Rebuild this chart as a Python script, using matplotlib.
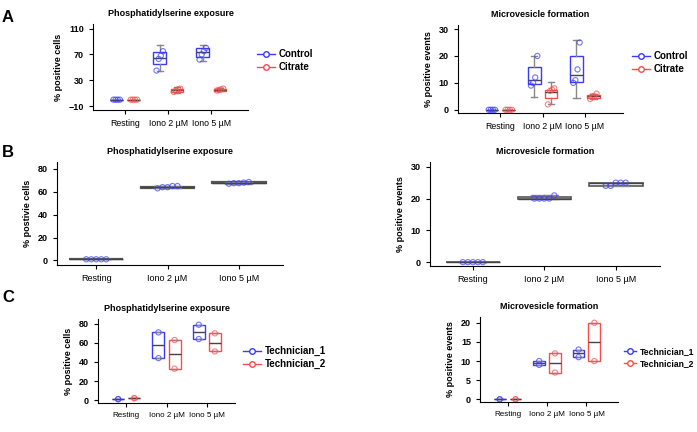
import matplotlib.pyplot as plt
from matplotlib.lines import Line2D

plt.rcParams['font.family'] = ['Liberation Sans', 'DejaVu Sans']

W, H = 697, 432
cats = ['Resting', 'Iono 2 \u00b5M', 'Iono 5 \u00b5M']
BLUE = '#3a3aff'
RED = '#ff4a4a'

# --- A: Phosphatidylserine exposure (Control / Citrate)
a_ps_ctrl = dict(lo=[0, 45, 60], q1=[0, 55, 66], med=[0, 65, 73], q3=[0, 73, 80], hi=[0, 85, 85])
a_ps_ctrl_pts = [[0, 0, 0, 0], [45, 63, 68, 75], [62, 70, 75, 80]]
a_ps_cit = dict(lo=[0, 10, 13], q1=[0, 12, 14], med=[0, 15, 15], q3=[0, 17, 16], hi=[0, 20, 18])
a_ps_cit_pts = [[0, 0, 0, 0], [12, 14, 16, 17], [14, 15, 16, 17]]
# --- A: Microvesicle formation
a_mv_ctrl = dict(lo=[0, 4.8, 4.3], q1=[0, 9.5, 10.5], med=[0, 11, 13], q3=[0, 16, 20], hi=[0, 20, 26])
a_mv_ctrl_pts = [[0, 0, 0, 0], [9, 10, 12, 20], [10, 11, 15, 25]]
a_mv_cit = dict(lo=[0, 2, 4], q1=[0, 4.5, 4.5], med=[0, 6.5, 5], q3=[0, 7.5, 5.5], hi=[0, 10.3, 6])
a_mv_cit_pts = [[0, 0, 0, 0], [2, 7, 7.5, 8], [4, 5, 5, 6]]

# --- B: repeatability
b_ps = dict(lo=[1, 63, 67], q1=[1, 63.5, 67.3], med=[1, 64, 67.8], q3=[1, 64.5, 68.3], hi=[1, 65, 68.5])
b_ps_pts = [[1, 1, 1, 1, 1], [63, 64, 64, 65, 65], [67, 67.5, 67.5, 68, 68.5]]
b_mv = dict(lo=[0, 20, 24], q1=[0, 19.8, 24], med=[0, 20, 25], q3=[0, 20.4, 25], hi=[0, 21, 25])
b_mv_pts = [[0, 0, 0, 0, 0], [20, 20, 20, 20, 21], [24, 24, 25, 25, 25]]

# --- C: Technician_1 / Technician_2
c_ps_t1 = dict(lo=[1, 44, 64], q1=[1, 44, 64], med=[1, 58, 71], q3=[1, 71, 79], hi=[1, 71, 79])
c_ps_t1_pts = [[1, 1], [44, 71], [64, 79]]
c_ps_t2 = dict(lo=[2, 33, 51], q1=[2, 33, 51], med=[2, 48, 60], q3=[2, 63, 70], hi=[2, 63, 70])
c_ps_t2_pts = [[2, 2], [33, 63], [51, 70]]
c_mv_t1 = dict(lo=[0, 9, 11], q1=[0, 9, 11], med=[0, 9.5, 12], q3=[0, 10, 13], hi=[0, 10, 13])
c_mv_t1_pts = [[0, 0], [9, 10], [11, 13]]
c_mv_t2 = dict(lo=[0, 7, 10], q1=[0, 7, 10], med=[0, 9.5, 15], q3=[0, 12, 20], hi=[0, 12, 20])
c_mv_t2_pts = [[0, 0], [7, 12], [10, 20]]


def px_axes(fig, x0, y0, x1, y1):
    return fig.add_axes([x0 / W, 1 - y1 / H, (x1 - x0) / W, (y1 - y0) / H])


def draw_group(ax, st, pts, pos, color, width, edge, lw=1.0, step=0.05):
    stats = [dict(whislo=st['lo'][i], q1=st['q1'][i], med=st['med'][i], q3=st['q3'][i],
                  whishi=st['hi'][i], fliers=[]) for i in range(3)]
    ax.bxp(stats, positions=pos, widths=width, showcaps=True, patch_artist=True,
           boxprops=dict(facecolor='white', edgecolor=edge, linewidth=lw),
           whiskerprops=dict(color='#888888', linewidth=1),
           capprops=dict(color='#888888', linewidth=1),
           medianprops=dict(color='#444444', linewidth=1), zorder=2)
    for p, vals in zip(pos, pts):
        n = len(vals)
        offs = [(k - (n - 1) / 2) * step for k in range(n)]
        ax.scatter([p + o for o in offs], vals, s=14, facecolors='none',
                   edgecolors=color, linewidths=0.8, alpha=0.7, zorder=3)


def style(ax, title, ylabel, ylim, yticks, xlim, xpos, xfs=6.3):
    for s in ['top', 'right']:
        ax.spines[s].set_visible(False)
    ax.set_ylim(*ylim)
    ax.set_yticks(yticks)
    ax.set_xlim(*xlim)
    ax.set_xticks(xpos)
    ax.set_xticklabels(cats, fontsize=xfs)
    ax.tick_params(axis='y', labelsize=6.5, length=3)
    for t in ax.get_yticklabels():
        t.set_fontweight('bold')
    ax.tick_params(axis='x', length=3)
    ax.set_title(title, fontsize=6.5, fontweight='bold', pad=6)
    ax.set_ylabel(ylabel, fontsize=6.5, fontweight='bold')


def legend(fig, names, xpx, ypx, size=7, hl=1.8):
    handles = [Line2D([0], [0], color=c, marker='o', mfc='white', ms=4, lw=1)
               for c in (BLUE, RED)]
    fig.legend(handles, names, loc='upper left', bbox_to_anchor=(xpx / W, 1 - ypx / H),
               frameon=False, handlelength=hl, handletextpad=0.4, labelspacing=0.3,
               borderaxespad=0, borderpad=0, prop=dict(weight='bold', size=size))


fig = plt.figure(figsize=(W / 100, H / 100), dpi=100)

# A left
ax = px_axes(fig, 93, 24, 248, 110)
draw_group(ax, a_ps_ctrl, a_ps_ctrl_pts, [0.8, 1.8, 2.8], BLUE, 0.3, BLUE)
draw_group(ax, a_ps_cit, a_ps_cit_pts, [1.2, 2.2, 3.2], RED, 0.3, RED)
style(ax, 'Phosphatidylserine exposure', '% positive cells', (-16, 117),
      [-10, 30, 70, 110], (0.25, 3.85), [1, 2, 3])
legend(fig, ['Control', 'Citrate'], 257, 49)

# A right
ax = px_axes(fig, 458, 25, 623, 113)
draw_group(ax, a_mv_ctrl, a_mv_ctrl_pts, [0.8, 1.8, 2.8], BLUE, 0.3, BLUE)
draw_group(ax, a_mv_cit, a_mv_cit_pts, [1.2, 2.2, 3.2], RED, 0.3, RED)
style(ax, 'Microvesicle formation', '% positive events', (-1.2, 31.5),
      [0, 10, 20, 30], (0.0, 3.9), [1, 2, 3])
legend(fig, ['Control', 'Citrate'], 632, 51)

# B left
ax = px_axes(fig, 57, 162, 283, 265)
draw_group(ax, b_ps, b_ps_pts, [1, 2, 3], BLUE, 0.75, '#555555', lw=1.6, step=0.07)
style(ax, 'Phosphatidylserine exposure', '% postivie cells', (-4, 86),
      [0, 20, 40, 60, 80], (0.45, 3.62), [1, 2, 3], xfs=6.5)

# B right
ax = px_axes(fig, 430, 162, 660, 266)
draw_group(ax, b_mv, b_mv_pts, [1, 2, 3], BLUE, 0.75, '#555555', lw=1.2, step=0.07)
style(ax, 'Microvesicle formation', '% positive events', (-1.2, 31.5),
      [0, 10, 20, 30], (0.4, 3.62), [1, 2, 3], xfs=6.5)

# C left
ax = px_axes(fig, 98, 319, 235, 403)
draw_group(ax, c_ps_t1, c_ps_t1_pts, [0.8, 1.8, 2.8], BLUE, 0.3, BLUE, step=0.0)
draw_group(ax, c_ps_t2, c_ps_t2_pts, [1.2, 2.2, 3.2], RED, 0.3, RED, step=0.0)
style(ax, 'Phosphatidylserine exposure', '% positive cells', (-3, 85),
      [0, 20, 40, 60, 80], (0.3, 3.7), [1, 2, 3], xfs=5.8)
legend(fig, ['Technician_1', 'Technician_2'], 243, 346)

# C right
ax = px_axes(fig, 480, 317, 618, 402)
draw_group(ax, c_mv_t1, c_mv_t1_pts, [0.8, 1.8, 2.8], BLUE, 0.3, BLUE, step=0.0)
draw_group(ax, c_mv_t2, c_mv_t2_pts, [1.2, 2.2, 3.2], RED, 0.3, RED, step=0.0)
style(ax, 'Microvesicle formation', '% positive events', (-0.7, 21.5),
      [0, 5, 10, 15, 20], (0.3, 3.8), [1, 2, 3], xfs=5.8)
legend(fig, ['Technician_1', 'Technician_2'], 624, 347, size=6.2, hl=1.4)

for lab, y in [('A', 22), ('B', 157), ('C', 302)]:
    fig.text(2 / W, 1 - y / H, lab, fontsize=12, fontweight='bold')

fig.savefig('out.png', dpi=100)
